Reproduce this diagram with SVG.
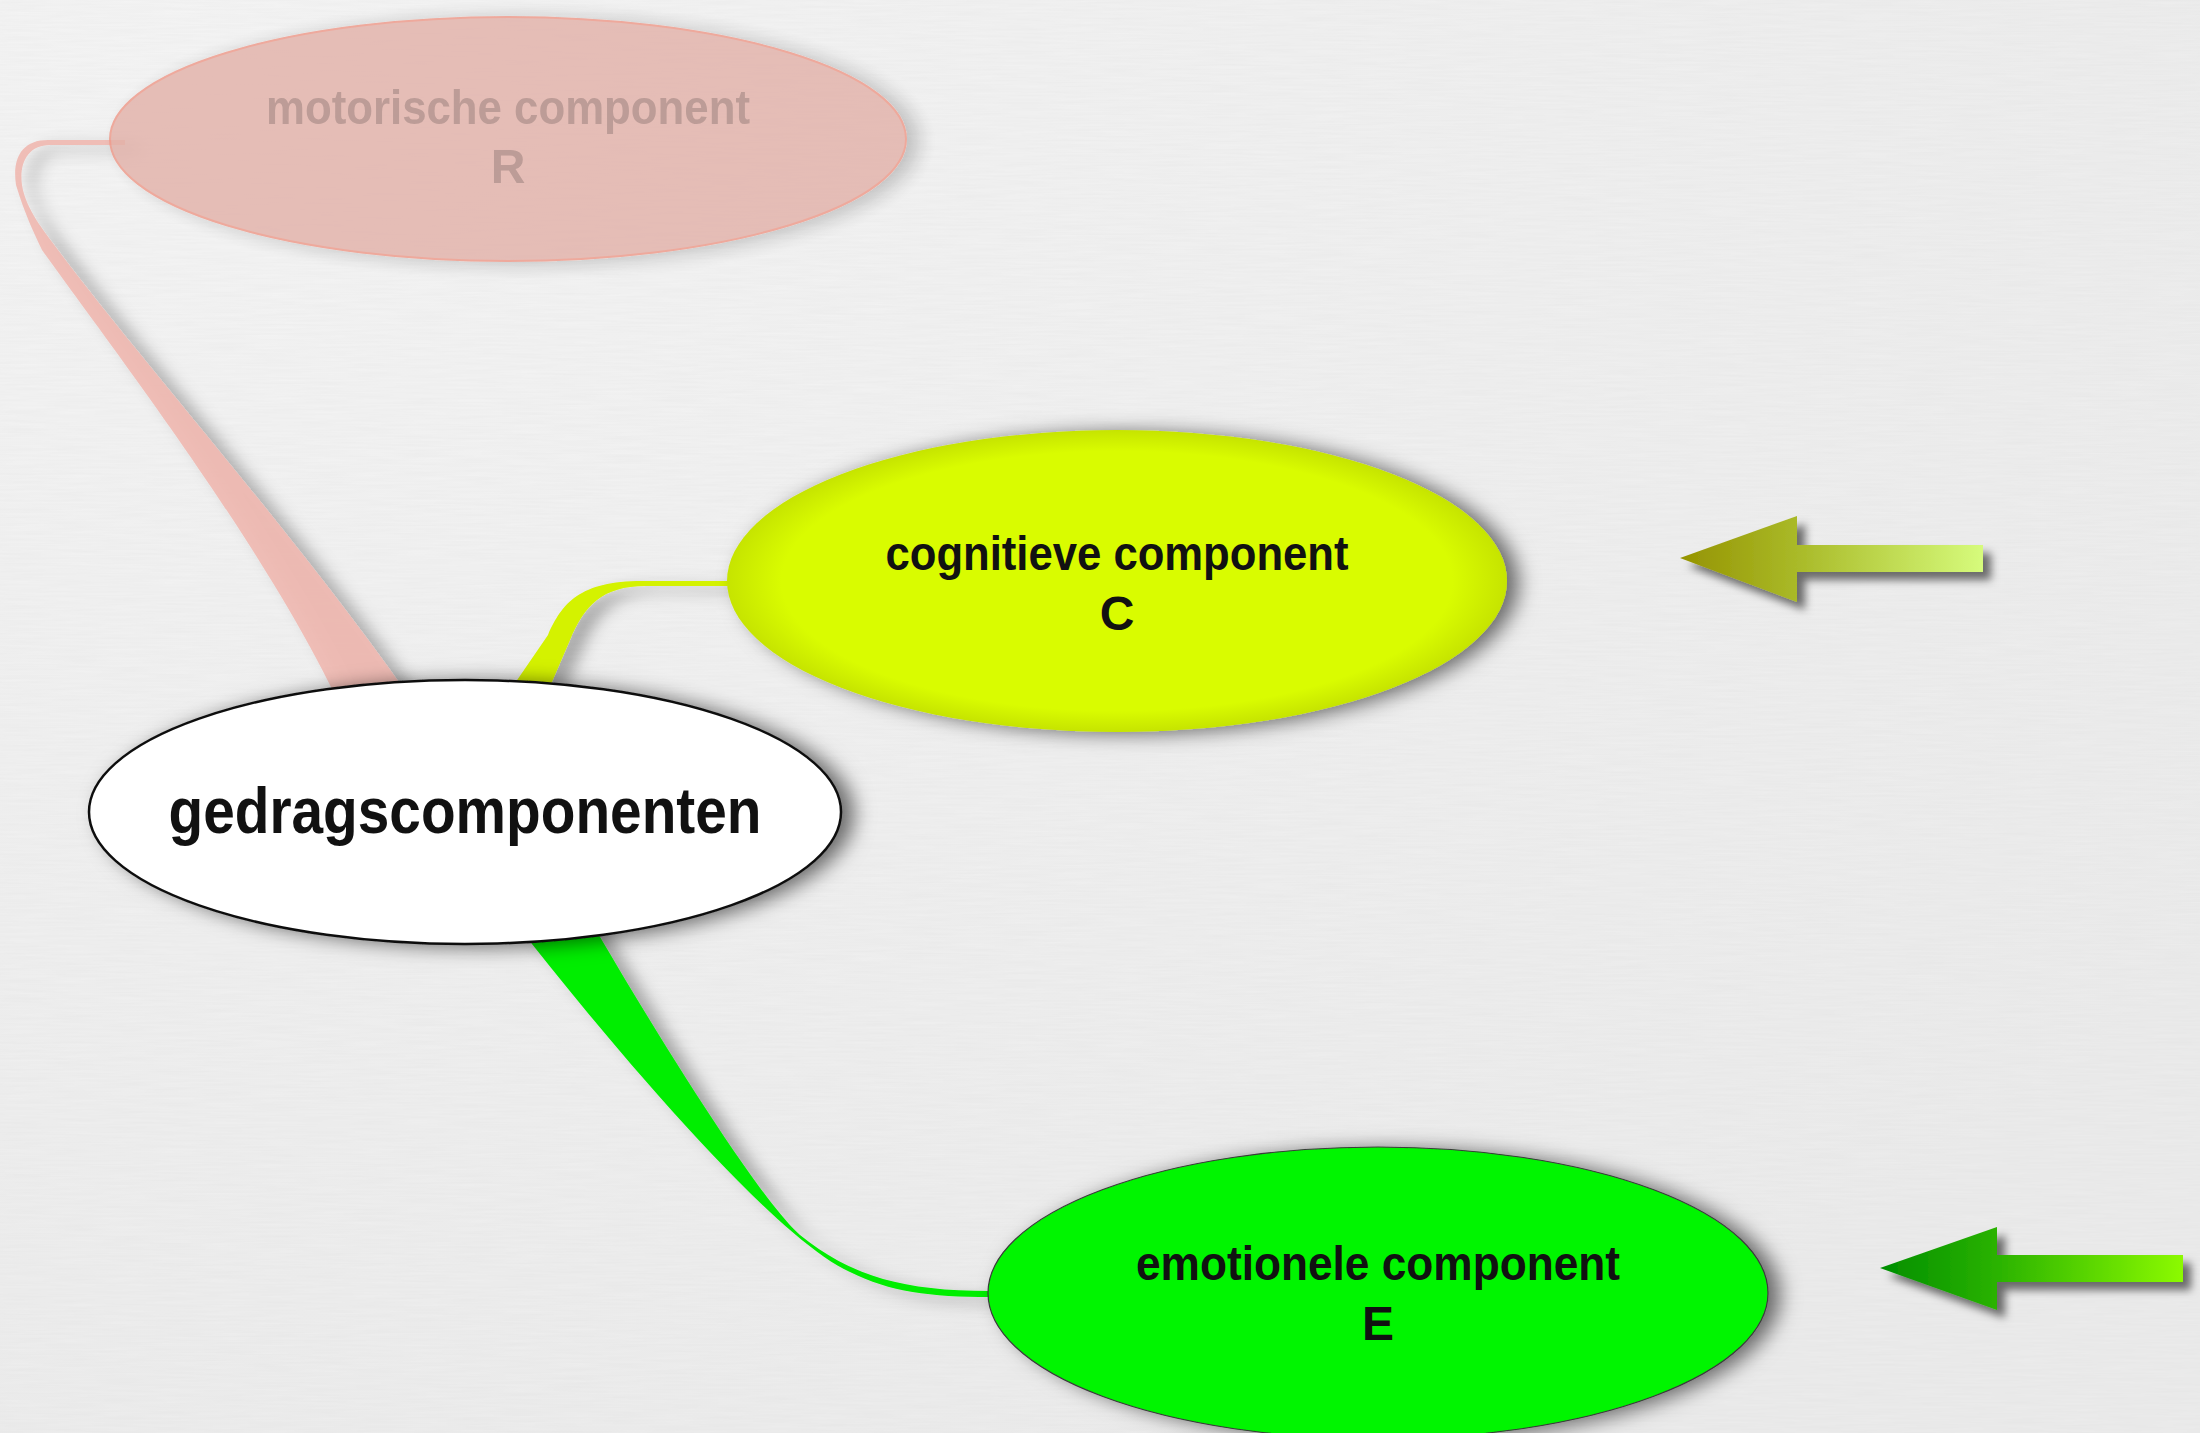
<svg xmlns="http://www.w3.org/2000/svg" width="2200" height="1433" viewBox="0 0 2200 1433">
<defs>
<style>
.lbl{font-family:"Liberation Sans","DejaVu Sans",sans-serif;font-weight:bold;text-anchor:middle;fill:#111}
.lbl-m{fill:#b48e88}
</style>
<filter id="tex" x="0" y="0" width="100%" height="100%">
<feTurbulence type="fractalNoise" baseFrequency="0.02 0.45" numOctaves="2" seed="3" result="n"/>
<feColorMatrix in="n" type="matrix" values="0 0 0 0 0.5  0 0 0 0 0.5  0 0 0 0 0.5  0 0 0 0.12 0"/>
</filter>
<radialGradient id="bgGrad" cx="0.1" cy="0.05" r="1.1">
<stop offset="0" stop-color="#f5f5f5"/>
<stop offset="1" stop-color="#ececec"/>
</radialGradient>
<filter id="shadow" x="-20%" y="-30%" width="140%" height="160%">
<feDropShadow dx="12" dy="2" stdDeviation="10" flood-color="#000" flood-opacity="0.55"/>
</filter>
<filter id="shadowLight" x="-20%" y="-30%" width="140%" height="160%">
<feDropShadow dx="12" dy="2" stdDeviation="10" flood-color="#000" flood-opacity="0.25"/>
</filter>
<filter id="ribShadow" x="-20%" y="-20%" width="140%" height="140%">
<feDropShadow dx="14" dy="6" stdDeviation="8" flood-color="#000" flood-opacity="0.3"/>
</filter>
<filter id="arrShadow" x="-10%" y="-30%" width="130%" height="170%">
<feDropShadow dx="8" dy="8" stdDeviation="4" flood-color="#000" flood-opacity="0.55"/>
</filter>
<radialGradient id="cogGrad" cx="0.5" cy="0.5" r="0.5">
<stop offset="0.86" stop-color="#d9fc00"/>
<stop offset="1" stop-color="#c6e400"/>
</radialGradient>
<linearGradient id="arrOlive" gradientUnits="userSpaceOnUse" x1="1680" y1="0" x2="1983" y2="0">
<stop offset="0" stop-color="#959300"/>
<stop offset="0.4" stop-color="#aabb2a"/>
<stop offset="1" stop-color="#d6fb7c"/>
</linearGradient>
<linearGradient id="arrGreen" gradientUnits="userSpaceOnUse" x1="1880" y1="0" x2="2183" y2="0">
<stop offset="0" stop-color="#008e00"/>
<stop offset="0.4" stop-color="#2cb400"/>
<stop offset="1" stop-color="#8cfa00"/>
</linearGradient>
</defs>

<rect width="2200" height="1433" fill="url(#bgGrad)"/>
<rect width="2200" height="1433" filter="url(#tex)"/>

<g id="connectors">
<path id="conn-motor" filter="url(#ribShadow)" fill="#f0b8b0" fill-opacity="0.9" d="M 125 140 L 48 140 C 22 140 12 158 16 185 C 25 215 35 235 42 250 C 110 345 260 540 335 695 L 408 695 C 300 540 140 360 58 250 C 45 232 26 210 22 185 C 19 163 28 145 50 145 L 125 145 Z"/>
<path id="conn-cog" filter="url(#ribShadow)" fill="#d4f200" d="M 730 581 L 642 581 C 580 581 562 603 548 635 L 500 705 L 542 705 L 570 640 C 584 606 602 586 646 586 L 730 586 Z"/>
<path id="conn-emo" filter="url(#ribShadow)" fill="#00ee00" d="M 513 915 L 532 944 C 640 1080 780 1240 850 1272 C 890 1292 930 1297 990 1297 L 990 1291 C 900 1291 850 1275 800 1235 C 760 1200 660 1040 596 930 L 585 915 Z"/>
</g>

<g id="node-motor" opacity="0.85">
<ellipse cx="508" cy="139" rx="398" ry="122" fill="#e2b0a8" stroke="#ee9888" stroke-width="2" filter="url(#shadowLight)" opacity="0.95"/>
<text class="lbl lbl-m" x="508" y="124" font-size="48" textLength="484" lengthAdjust="spacingAndGlyphs">motorische component</text>
<text class="lbl lbl-m" x="508" y="183" font-size="48">R</text>
</g>

<g id="node-cognitive">
<ellipse cx="1117" cy="581" rx="390" ry="151" fill="url(#cogGrad)" filter="url(#shadow)"/>
<text class="lbl" x="1117" y="570" font-size="48" textLength="463" lengthAdjust="spacingAndGlyphs">cognitieve component</text>
<text class="lbl" x="1117" y="630" font-size="48">C</text>
</g>

<g id="node-central">
<ellipse cx="465" cy="812" rx="376" ry="132" fill="#ffffff" stroke="#111" stroke-width="2.5" filter="url(#shadow)"/>
<text class="lbl" x="465" y="833" font-size="64" textLength="593" lengthAdjust="spacingAndGlyphs">gedragscomponenten</text>
</g>

<g id="node-emotional">
<ellipse cx="1378" cy="1293" rx="390" ry="146" fill="#00f500" stroke="#3a3a3a" stroke-width="1.2" filter="url(#shadow)"/>
<text class="lbl" x="1378" y="1280" font-size="48" textLength="484" lengthAdjust="spacingAndGlyphs">emotionele component</text>
<text class="lbl" x="1378" y="1340" font-size="48">E</text>
</g>

<g id="arrow-cognitive" filter="url(#arrShadow)">
<polygon points="1680,558 1797,516 1797,545 1983,545 1983,572 1797,572 1797,602" fill="url(#arrOlive)"/>
</g>
<g id="arrow-emotional" filter="url(#arrShadow)">
<polygon points="1880,1268 1997,1227 1997,1255 2183,1255 2183,1282 1997,1282 1997,1310" fill="url(#arrGreen)"/>
</g>
</svg>
